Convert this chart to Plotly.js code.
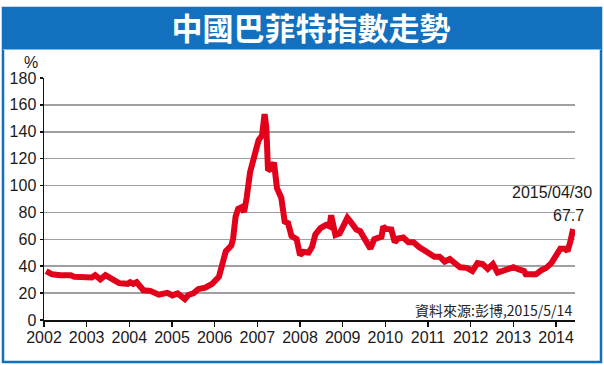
<!DOCTYPE html>
<html>
<head>
<meta charset="utf-8">
<script src="https://cdn.plot.ly/plotly-3.0.1.min.js"></script>
<style>html,body{margin:0;padding:0;background:#fff;}#chart{width:604px;height:365px;}</style>
</head>
<body>
<div id="chart"></div>
<script>
// Chart position on the axis as labelled (decimal years)
const xPos = [2002.05,2002.19,2002.39,2002.63,2002.71,2002.96,2003.12,2003.20,2003.32,2003.44,2003.60,2003.76,2003.96,2004.02,2004.09,2004.17,2004.33,2004.49,2004.69,2004.89,2005.01,2005.13,2005.30,2005.38,2005.50,2005.62,2005.78,2005.94,2006.10,2006.18,2006.26,2006.39,2006.43,2006.49,2006.55,2006.63,2006.69,2006.75,2006.83,2006.95,2007.03,2007.11,2007.17,2007.21,2007.25,2007.31,2007.39,2007.46,2007.56,2007.64,2007.72,2007.80,2007.92,2008.00,2008.08,2008.20,2008.28,2008.36,2008.48,2008.61,2008.69,2008.73,2008.78,2008.83,2008.93,2009.01,2009.11,2009.21,2009.32,2009.41,2009.53,2009.65,2009.74,2009.82,2009.91,2009.95,2010.02,2010.14,2010.22,2010.30,2010.42,2010.54,2010.66,2010.79,2010.91,2011.03,2011.15,2011.27,2011.39,2011.51,2011.63,2011.75,2011.91,2012.04,2012.16,2012.28,2012.40,2012.52,2012.63,2012.76,2012.88,2013.00,2013.13,2013.25,2013.29,2013.41,2013.53,2013.65,2013.77,2013.89,2014.01,2014.10,2014.22,2014.27,2014.34,2014.40];
// Buffett indicator (%)
const indexValues = [36.4,34.0,33.3,33.3,32.1,31.4,31.6,33.3,30.2,33.3,29.7,27.4,26.9,28.1,26.9,28.1,22.1,21.7,18.8,20.2,18.3,19.8,15.5,18.6,19.8,23.1,24.0,26.9,32.1,39.9,51.1,55.4,60.1,76.8,82.7,83.9,80.3,91.0,110.0,124.3,133.8,137.3,153.2,143.3,111.2,112.4,117.1,98.1,91.0,73.2,72.0,62.5,60.1,48.3,50.6,50.2,54.2,63.7,68.4,70.8,69.6,77.9,70.8,63.2,64.4,70.8,76.0,72.0,67.3,66.1,60.1,53.0,60.1,61.3,62.0,69.6,67.7,67.3,57.8,60.6,61.3,57.8,57.8,54.2,51.8,50.6,47.1,47.1,43.5,45.4,41.6,39.2,38.8,36.4,42.3,41.6,38.0,41.6,35.2,36.9,38.8,39.2,37.6,36.4,34.0,34.0,34.0,36.9,38.8,42.3,48.3,53.0,53.0,51.1,58.9,67.7];
const yearTicks = [2002,2003,2004,2005,2006,2007,2008,2009,2010,2011,2012,2013,2014];
const yTicks = [0,20,40,60,80,100,120,140,160,180];
const titleText = "中國巴菲特指數走勢";
const unitText = "%";
const lastDate = "2015/04/30";
const lastValue = 67.7;
const sourceText = "資料來源:彭博,2015/5/14";

const W = 604, H = 365;
const L = 44, R = 575, T = 78, B = 320;
const pw = R - L, ph = B - T;
const px = v => (v - L) / pw;
const py = v => (B - v) / ph;

const blue = "rgb(18,112,190)";
const font = "Liberation Sans, Arial, sans-serif";
const cjk = "Noto Sans CJK TC, Noto Sans CJK SC, sans-serif";

const trace = {
  x: xPos, y: indexValues, type: "scatter", mode: "lines",
  line: {color: "rgb(226,0,26)", width: 6, shape: "linear"},
  hoverinfo: "skip"
};

const layout = {
  width: W, height: H,
  margin: {l: L, r: W - R, t: T, b: H - B, pad: 0},
  paper_bgcolor: "#ffffff", plot_bgcolor: "#ffffff",
  showlegend: false,
  title: {
    text: "<b>" + titleText + "</b>",
    font: {family: cjk, size: 31, color: "#ffffff"},
    xref: "container", yref: "container", x: 311 / W, y: 1 - 29 / H,
    xanchor: "center", yanchor: "middle"
  },
  xaxis: {
    range: [2002, 2002 + (R - L) / 42.67],
    tickmode: "array", tickvals: yearTicks, ticktext: yearTicks.map(String),
    ticks: "outside", ticklen: 5, tickwidth: 1.5, tickcolor: "#111",
    ticklabelstandoff: -3,
    showline: true, linecolor: "#111", linewidth: 1.5,
    showgrid: false, zeroline: false,
    tickfont: {family: font, size: 16, color: "#1a1a1a"},
    fixedrange: true
  },
  yaxis: {
    range: [0, 180],
    tickmode: "array", tickvals: yTicks, ticktext: yTicks.map(String),
    ticks: "outside", ticklen: 3, tickwidth: 1.5, tickcolor: "#111",
    showline: true, linecolor: "#111", linewidth: 1.5,
    showgrid: true, gridcolor: "#a0a0a0", gridwidth: 1.6,
    zeroline: false,
    tickfont: {family: font, size: 16, color: "#1a1a1a"},
    fixedrange: true
  },
  shapes: [
    {type: "rect", xref: "paper", yref: "paper", layer: "below",
     x0: px(3), x1: px(601), y0: py(362), y1: py(8),
     line: {color: blue, width: 2.5}, fillcolor: "rgba(0,0,0,0)"},
    {type: "rect", xref: "paper", yref: "paper", layer: "below",
     x0: px(3), x1: px(601), y0: py(49), y1: py(8),
     line: {width: 0}, fillcolor: blue},
    {type: "line", xref: "paper", yref: "paper", layer: "below",
     x0: px(3), x1: px(601), y0: py(49.5), y1: py(49.5),
     line: {color: "rgb(120,190,235)", width: 1}}
  ],
  annotations: [
    {text: unitText, xref: "paper", yref: "paper",
     x: px(31), y: py(62), xanchor: "center", yanchor: "middle", showarrow: false,
     font: {family: font, size: 16, color: "#1a1a1a"}},
    {text: lastDate, xref: "paper", yref: "paper",
     x: px(594), y: py(192), xanchor: "right", yanchor: "middle", showarrow: false,
     font: {family: font, size: 16, color: "#1a1a1a"}},
    {text: String(lastValue), xref: "paper", yref: "paper",
     x: px(586), y: py(215), xanchor: "right", yanchor: "middle", showarrow: false,
     font: {family: font, size: 16, color: "#1a1a1a"}},
    {text: sourceText, xref: "paper", yref: "paper",
     x: px(574), y: py(310), xanchor: "right", yanchor: "middle", showarrow: false,
     font: {family: cjk, size: 14, color: "#222"}}
  ]
};

Plotly.newPlot("chart", [trace], layout, {staticPlot: true, displayModeBar: false});
</script>
</body>
</html>
